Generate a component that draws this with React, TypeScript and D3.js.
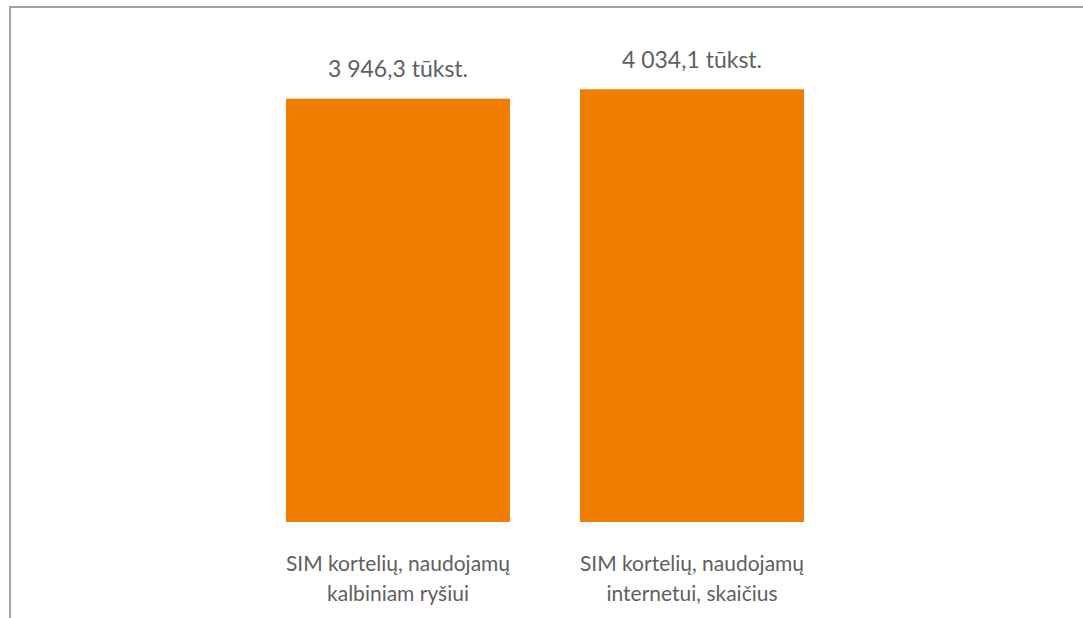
import React from 'react';
import * as d3 from 'd3';

const categories = ['kalbiniam', 'internetui'];
const categoryLines = [
    ['SIM kortelių, naudojamų', 'kalbiniam ryšiui'],
    ['SIM kortelių, naudojamų', 'internetui, skaičius'],
];
const values = [3946.3, 4034.1];
const valueLabels = ['3 946,3 tūkst.', '4 034,1 tūkst.'];

const width = 1083;
const height = 618;
const baseline = 522;

export default function App() {
    const xScale = d3.scaleBand<string>()
        .domain(categories)
        .range([251, 839])
        .paddingInner(0.238)
        .paddingOuter(0.119);

    const yScale = d3.scaleLinear()
        .domain([0, 4500])
        .range([baseline, 39.3]);

    const font = 'Lato, "Open Sans", sans-serif';
    const textColor = '#5f5f5f';

    return (
        <svg width={width} height={height}
             style={{position: 'absolute', left: 0, top: 0, display: 'block', background: '#fff'}}>
            <rect x={10} y={7} width={1300} height={1000} fill="none" stroke="#a0a3a6" strokeWidth={2}/>
            {categories.map((c, i) => {
                const x = xScale(c) as number;
                const bw = xScale.bandwidth();
                const cx = x + bw / 2;
                return (
                    <g key={c}>
                        <rect x={x} y={yScale(values[i])} width={bw} height={baseline - yScale(values[i])}
                              fill="#ef7d00"/>
                        <text x={cx} y={yScale(values[i]) - 21.5} textAnchor="middle"
                              fontFamily={font} fontSize={23} fill={textColor}>
                            {valueLabels[i]}
                        </text>
                        <text textAnchor="middle" fontFamily={font} fontSize={21} fill={textColor}>
                            {categoryLines[i].map((line, j) => (
                                <tspan key={j} x={cx} y={571 + j * 30}>{line}</tspan>
                            ))}
                        </text>
                    </g>
                );
            })}
        </svg>
    );
}
